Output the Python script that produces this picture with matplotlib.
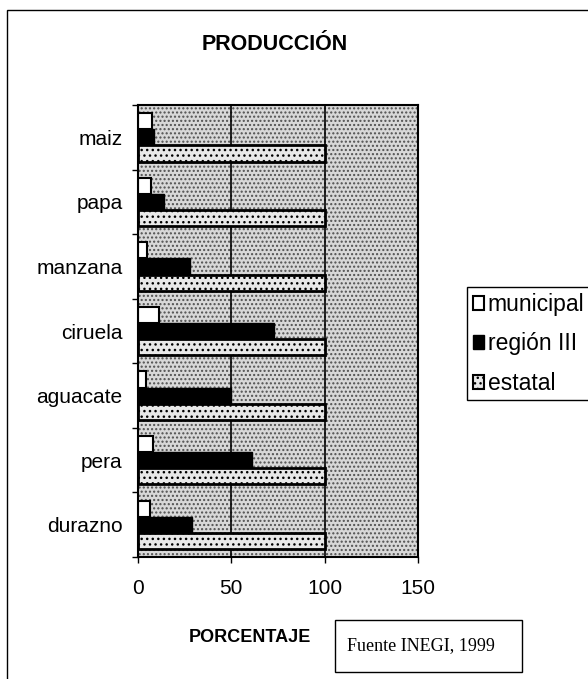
import numpy as np
import matplotlib
matplotlib.use('Agg')
import matplotlib.pyplot as plt
from matplotlib.patches import Patch, Rectangle

plt.rcParams['font.family'] = ['Liberation Sans', 'DejaVu Sans']
plt.rcParams['hatch.linewidth'] = 1.0

# datos
categorias = ['maiz', 'papa', 'manzana', 'ciruela', 'aguacate', 'pera', 'durazno']
municipal = [7.5, 7, 5, 11, 4.5, 8, 6.5]
region_iii = [8.5, 14, 28, 73, 50, 61, 29]
estatal = [100, 100, 100, 100, 100, 100, 100]
x_ticks = [0, 50, 100, 150]

W, H = 588, 679
fig = plt.figure(figsize=(W / 100, H / 100), dpi=100)
ax = fig.add_axes([138 / W, 1 - 557 / H, 280 / W, 452 / H])

# fondo punteado del area de trazado
ax.set_facecolor('white')
ax.add_patch(Rectangle((0, 0), 1, 1, transform=ax.transAxes, facecolor='#d8d8d8',
                       hatch='....', edgecolor='#505050', linewidth=0, zorder=0))

y = np.arange(len(categorias))
h = 0.25
ax.barh(y - h, municipal, height=h, color='white', edgecolor='black', linewidth=1.5, zorder=3)
ax.barh(y, region_iii, height=h, color='black', edgecolor='black', linewidth=1.0, zorder=3)
ax.barh(y + h, estatal, height=h, color='#e8e8e8', edgecolor='black', hatch='...',
        linewidth=2.0, zorder=3)

ax.set_xlim(0, 150)
ax.set_ylim(len(categorias) - 0.5, -0.5)
ax.set_xticks(x_ticks)
ax.set_yticks(y)
ax.set_yticklabels(categorias)
ax.set_yticks(np.arange(-0.5, len(categorias)), minor=True)
ax.tick_params(axis='y', which='major', length=0, pad=11, labelsize=15)
ax.tick_params(axis='y', which='minor', length=4, width=1, direction='out')
ax.tick_params(axis='x', length=4, width=1, pad=12, labelsize=15)
ax.xaxis.grid(True, color='black', linewidth=1.2, zorder=1)
ax.set_axisbelow(True)
for s in ax.spines.values():
    s.set_linewidth(1.5)
    s.set_zorder(4)

fig.text(275 / W, 1 - 45 / H, 'PRODUCCIÓN', ha='center', va='center',
         fontsize=15.5, fontweight='bold')
fig.text(250 / W, 1 - 638 / H, 'PORCENTAJE', ha='center', va='center',
         fontsize=13, fontweight='bold')

# recuadro de la fuente
fig.patches.append(Rectangle((335 / W, 1 - 672 / H), 187 / W, 52 / H, transform=fig.transFigure,
                             facecolor='white', edgecolor='black', linewidth=1))
fig.text(421 / W, 1 - 646 / H, 'Fuente INEGI, 1999', ha='center', va='center',
         fontsize=13, family=['Liberation Serif'])

# borde exterior
fig.patches.append(Rectangle((7 / W, -0.05), 1.1, 1 - 10 / H + 0.05, transform=fig.transFigure,
                             facecolor='none', edgecolor='black', linewidth=1))

handles = [Patch(facecolor='white', edgecolor='black', linewidth=1.5),
           Patch(facecolor='black', edgecolor='black'),
           Patch(facecolor='#e8e8e8', edgecolor='black', hatch='...', linewidth=1.5)]
leg = fig.legend(handles, ['municipal', 'región III', 'estatal'], loc='upper left',
                 bbox_to_anchor=(467 / W, 1 - 287 / H), frameon=True, fancybox=False,
                 edgecolor='black', framealpha=1, fontsize=16.5, handlelength=0.5,
                 handleheight=0.55, handletextpad=0.15, labelspacing=0.72,
                 borderpad=0.25, borderaxespad=0)
leg.get_frame().set_linewidth(1)

fig.savefig('out.png', dpi=100)
